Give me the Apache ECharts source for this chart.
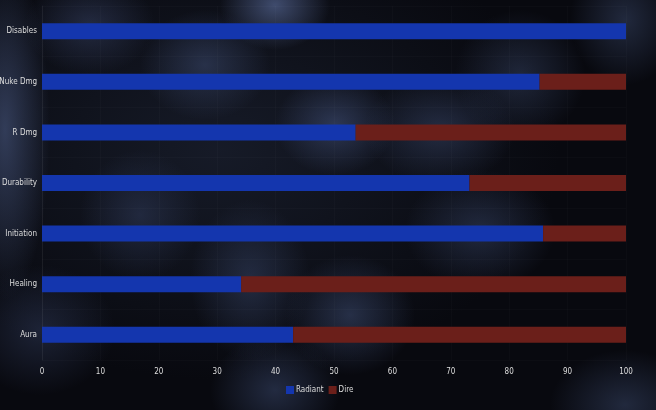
<!DOCTYPE html>
<html>
<head>
<meta charset="utf-8">
<script src="https://cdn.jsdelivr.net/npm/echarts@6/dist/echarts.min.js"></script>
<style>
html, body { margin: 0; padding: 0; }
body {
  width: 656px; height: 410px; overflow: hidden;
  background-color: #08090f;
  background-image:
    radial-gradient(ellipse 55px 45px at 275px 5px, rgba(75,90,130,0.8), rgba(0,0,0,0)),
    radial-gradient(ellipse 45px 170px at 5px 130px, rgba(62,75,110,0.75), rgba(0,0,0,0)),
    radial-gradient(ellipse 65px 50px at 90px 25px, rgba(50,60,92,0.6), rgba(0,0,0,0)),
    radial-gradient(ellipse 65px 55px at 205px 65px, rgba(55,68,102,0.6), rgba(0,0,0,0)),
    radial-gradient(ellipse 60px 50px at 335px 125px, rgba(60,74,112,0.65), rgba(0,0,0,0)),
    radial-gradient(ellipse 75px 55px at 440px 130px, rgba(55,68,102,0.55), rgba(0,0,0,0)),
    radial-gradient(ellipse 65px 65px at 520px 75px, rgba(50,62,92,0.55), rgba(0,0,0,0)),
    radial-gradient(ellipse 55px 65px at 625px 20px, rgba(50,62,92,0.6), rgba(0,0,0,0)),
    radial-gradient(ellipse 75px 60px at 480px 230px, rgba(52,65,98,0.55), rgba(0,0,0,0)),
    radial-gradient(ellipse 65px 60px at 350px 315px, rgba(56,70,105,0.6), rgba(0,0,0,0)),
    radial-gradient(ellipse 60px 80px at 250px 280px, rgba(52,65,98,0.55), rgba(0,0,0,0)),
    radial-gradient(ellipse 65px 55px at 275px 390px, rgba(52,65,98,0.6), rgba(0,0,0,0)),
    radial-gradient(ellipse 75px 65px at 40px 330px, rgba(45,55,85,0.55), rgba(0,0,0,0)),
    radial-gradient(ellipse 60px 65px at 140px 215px, rgba(46,57,88,0.55), rgba(0,0,0,0)),
    radial-gradient(ellipse 75px 55px at 625px 405px, rgba(50,62,92,0.6), rgba(0,0,0,0)),
    radial-gradient(ellipse 340px 230px at 220px 150px, rgba(28,34,50,0.7), rgba(0,0,0,0));
}
#chart { width: 656px; height: 410px; }
</style>
</head>
<body>
<div id="chart"></div>
<script>
var categories = ['Disables', 'Nuke Dmg', 'R Dmg', 'Durability', 'Initiation', 'Healing', 'Aura'];
var radiant = [100, 85.2, 53.7, 73.2, 85.8, 34.1, 43.0];
var dire = [0, 14.8, 46.3, 26.8, 14.2, 65.9, 57.0];
var xTicks = [0, 10, 20, 30, 40, 50, 60, 70, 80, 90, 100];

var labelFont = 'DejaVu Sans Condensed, Liberation Sans Narrow, sans-serif';
var myChart = echarts.init(document.getElementById('chart'));

var option = {
    backgroundColor: 'transparent',
    animation: false,
    grid: {
        left: 42,
        right: 30,
        top: 6,
        bottom: 50,
        containLabel: false,
        outerBoundsMode: 'none'
    },
    legend: {
        data: ['Radiant', 'Dire'],
        left: 281,
        top: 381,
        itemWidth: 8,
        itemHeight: 8,
        itemGap: 5,
        icon: 'rect',
        textStyle: {
            color: '#ddd',
            fontSize: 8,
            fontFamily: labelFont,
            padding: [0, 0, 0, -3]
        }
    },
    xAxis: {
        type: 'value',
        min: xTicks[0],
        max: xTicks[xTicks.length - 1],
        interval: 10,
        axisLine: { show: false },
        axisTick: { show: false },
        axisLabel: {
            color: '#ddd',
            fontSize: 8,
            fontFamily: labelFont,
            margin: 8
        },
        splitLine: {
            show: true,
            lineStyle: { color: 'rgba(255,255,255,0.02)' }
        }
    },
    yAxis: {
        type: 'category',
        data: categories,
        inverse: true,
        axisLine: {
            show: true,
            lineStyle: { color: 'rgba(255,255,255,0.05)' }
        },
        axisTick: { show: false },
        axisLabel: {
            color: '#ddd',
            fontSize: 8,
            fontFamily: labelFont,
            margin: 5
        },
        splitLine: {
            show: true,
            lineStyle: { color: 'rgba(255,255,255,0.02)' }
        }
    },
    series: [
        {
            name: 'Radiant',
            type: 'bar',
            stack: 'total',
            barWidth: 16,
            itemStyle: { color: '#1436ae' },
            data: radiant
        },
        {
            name: 'Dire',
            type: 'bar',
            stack: 'total',
            barWidth: 16,
            itemStyle: { color: '#6b1f1a' },
            data: dire
        }
    ]
};

myChart.setOption(option, true);
</script>
</body>
</html>
